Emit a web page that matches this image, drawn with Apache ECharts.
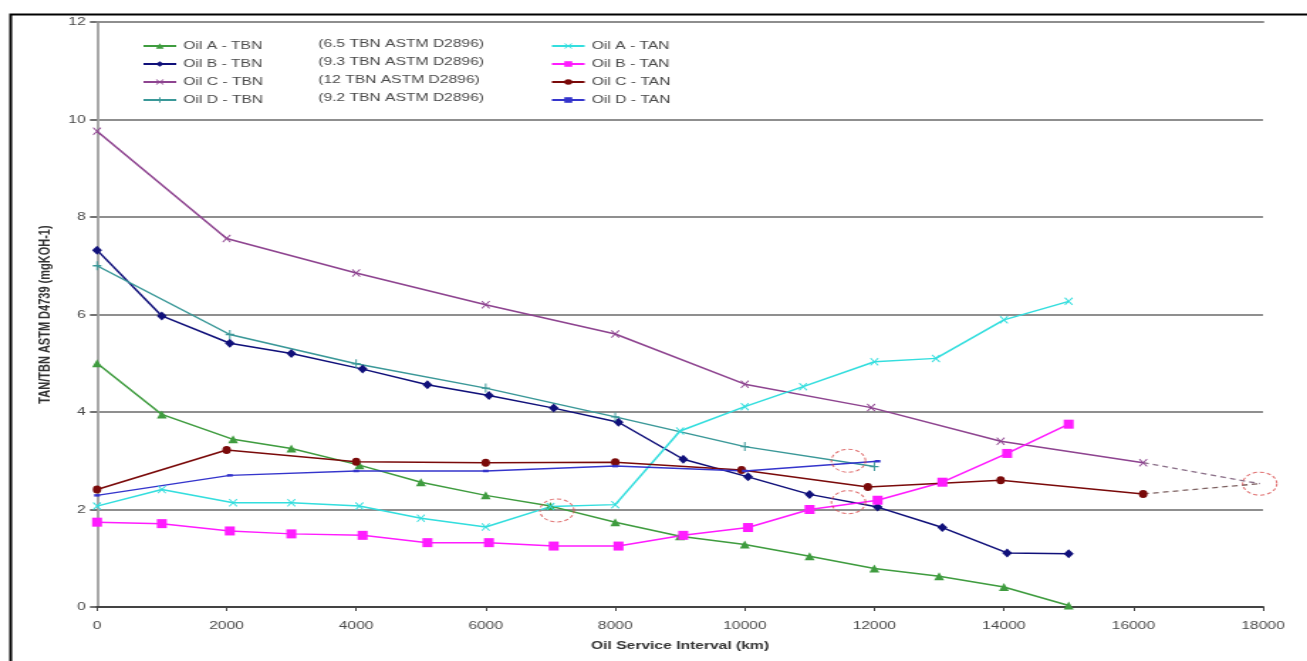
<!DOCTYPE html>
<html>
<head>
<meta charset="utf-8">
<script src="https://cdn.jsdelivr.net/npm/echarts@6/dist/echarts.min.js"></script>
<style>
  html, body { margin: 0; padding: 0; background: #fff; overflow: hidden; }
  /* the chart is laid out narrow and widened horizontally */
  #chart { width: 920px; height: 661px; transform: scaleX(1.4207); transform-origin: 0 0; }
</style>
</head>
<body>
<div id="chart"></div>
<script>
// ---- data: oil service interval (km) vs TAN / TBN (mgKOH-1) ----
const xTicks = [0, 2000, 4000, 6000, 8000, 10000, 12000, 14000, 16000, 18000];
const yTicks = [0, 2, 4, 6, 8, 10, 12];

const oilA_TBN_km = [0, 1000, 2100, 3000, 4050, 5000, 6000, 7000, 8000, 9000, 10000, 11000, 12000, 13000, 14000, 15000];
const oilA_TBN    = [5.00, 3.95, 3.44, 3.25, 2.91, 2.56, 2.29, 2.07, 1.74, 1.45, 1.28, 1.04, 0.79, 0.63, 0.41, 0.03];

const oilB_TBN_km = [0, 1000, 2050, 3000, 4100, 5100, 6050, 7050, 8050, 9050, 10050, 11000, 12050, 13050, 14050, 15000];
const oilB_TBN    = [7.32, 5.97, 5.41, 5.20, 4.88, 4.56, 4.34, 4.08, 3.79, 3.03, 2.67, 2.31, 2.05, 1.63, 1.11, 1.09];

const oilC_TBN_km = [0, 2000, 4000, 6000, 8000, 10000, 11950, 13950, 16150];
const oilC_TBN    = [9.76, 7.56, 6.85, 6.20, 5.60, 4.57, 4.09, 3.40, 2.96];

const oilD_TBN_km = [0, 2050, 4000, 6000, 8000, 10000, 12000];
const oilD_TBN    = [7.00, 5.59, 4.99, 4.49, 3.90, 3.29, 2.88];

const oilA_TAN_km = [0, 1000, 2100, 3000, 4050, 5000, 6000, 7000, 8000, 9000, 10000, 10900, 12000, 12950, 14000, 15000];
const oilA_TAN    = [2.07, 2.41, 2.14, 2.14, 2.07, 1.82, 1.64, 2.06, 2.10, 3.61, 4.11, 4.52, 5.03, 5.10, 5.89, 6.27];

const oilB_TAN_km = [0, 1000, 2050, 3000, 4100, 5100, 6050, 7050, 8050, 9050, 10050, 11000, 12050, 13050, 14050, 15000];
const oilB_TAN    = [1.74, 1.71, 1.56, 1.50, 1.47, 1.32, 1.32, 1.25, 1.25, 1.47, 1.63, 2.00, 2.19, 2.56, 3.15, 3.75];

const oilC_TAN_km = [0, 2000, 4000, 6000, 8000, 9950, 11900, 13950, 16150];
const oilC_TAN    = [2.41, 3.22, 2.98, 2.96, 2.97, 2.81, 2.46, 2.60, 2.32];

const oilD_TAN_km = [0, 2050, 4000, 6000, 8000, 10000, 12050];
const oilD_TAN    = [2.29, 2.70, 2.79, 2.79, 2.89, 2.79, 2.99];

// projected crossing of Oil C TBN and TAN
const crossoverPoint = [17950, 2.53];
// highlighted crossings
const highlightPoints = [[11600, 3.00], [11600, 2.15], [7100, 1.98], [17950, 2.53]];

const tbnNames = ['Oil A - TBN', 'Oil B - TBN', 'Oil C - TBN', 'Oil D - TBN'];
const tanNames = ['Oil A - TAN', 'Oil B - TAN', 'Oil C - TAN', 'Oil D - TAN'];
const tbnNotes = ['(6.5 TBN ASTM D2896)', '(9.3 TBN ASTM D2896)', '(12 TBN ASTM D2896)', '(9.2 TBN ASTM D2896)'];

// ---- styling ----
const FONT = '"Liberation Sans", Arial, sans-serif';
const TEXT = '#4a4a4a';
const X_SYM = 'path://M0,1 L1,0 L5,4 L9,0 L10,1 L6,5 L10,9 L9,10 L5,6 L1,10 L0,9 L4,5 Z';
const PLUS_SYM = 'path://M4.2,0 L5.8,0 L5.8,4.2 L10,4.2 L10,5.8 L5.8,5.8 L5.8,10 L4.2,10 L4.2,5.8 L0,5.8 L0,4.2 L4.2,4.2 Z';

const pairs = (xs, ys) => xs.map((x, i) => [x, ys[i]]);

function lineSeries(name, xs, ys, color, symbol, size) {
  return {
    name, type: 'line', data: pairs(xs, ys),
    symbol, symbolSize: size, showSymbol: true,
    lineStyle: { color, width: 1.5 },
    itemStyle: { color, borderWidth: 0 },
    emphasis: { disabled: true },
    animation: false, z: 3
  };
}

const series = [
  lineSeries(tbnNames[0], oilA_TBN_km, oilA_TBN, '#3f9c3f', 'triangle', [7, 8]),
  lineSeries(tbnNames[1], oilB_TBN_km, oilB_TBN, '#10107a', 'diamond', [7, 9]),
  lineSeries(tbnNames[2], oilC_TBN_km, oilC_TBN, '#8e4490', X_SYM, [6, 8]),
  lineSeries(tbnNames[3], oilD_TBN_km, oilD_TBN, '#3a9898', PLUS_SYM, [6, 9]),
  lineSeries(tanNames[0], oilA_TAN_km, oilA_TAN, '#33dede', X_SYM, [6, 8]),
  lineSeries(tanNames[1], oilB_TAN_km, oilB_TAN, '#ff1cff', 'rect', [7, 9]),
  lineSeries(tanNames[2], oilC_TAN_km, oilC_TAN, '#7a0a0a', 'circle', [6, 8]),
  lineSeries(tanNames[3], oilD_TAN_km, oilD_TAN, '#3535cc', 'rect', [4, 2.5]),
  // dashed projections of Oil C toward the crossing
  {
    name: 'C-TBN projection', type: 'line', silent: true, animation: false, symbol: 'none',
    data: [[oilC_TBN_km[oilC_TBN_km.length - 1], oilC_TBN[oilC_TBN.length - 1]], crossoverPoint],
    lineStyle: { color: '#8a6f88', width: 1.3, type: [4, 3] }
  },
  {
    name: 'C-TAN projection', type: 'line', silent: true, animation: false, symbol: 'none',
    data: [[oilC_TAN_km[oilC_TAN_km.length - 1], oilC_TAN[oilC_TAN.length - 1]], crossoverPoint],
    lineStyle: { color: '#7e6262', width: 1.3, type: [4, 3] }
  },
  {
    name: 'highlight', type: 'scatter', silent: true, animation: false,
    data: highlightPoints, symbol: 'circle', symbolSize: [24, 23], z: 5,
    itemStyle: { color: 'rgba(0,0,0,0)', borderColor: '#d84a4a', borderWidth: 1, borderType: [3, 2] }
  }
];

const legendBase = {
  orient: 'vertical', top: 35, padding: 5, itemWidth: 23, itemHeight: 7, itemGap: 6,
  selectedMode: false,
  textStyle: { fontFamily: FONT, fontSize: 11, color: TEXT, lineHeight: 12 }
};

const option = {
  backgroundColor: '#fff',
  animation: false,
  grid: { left: 68.3, right: 31, top: 22, bottom: 54 },
  legend: [
    Object.assign({ left: 95, data: tbnNames }, legendBase),
    Object.assign({ left: 382.5, data: tanNames }, legendBase)
  ],
  xAxis: [
    {
      type: 'value', min: xTicks[0], max: xTicks[xTicks.length - 1], interval: xTicks[1] - xTicks[0],
      name: 'Oil Service Interval (km)', nameLocation: 'middle', nameGap: 33,
      nameTextStyle: { fontFamily: FONT, fontSize: 11, fontWeight: 'bold', color: '#333' },
      axisLine: { show: true, onZero: false, lineStyle: { color: '#444', width: 2 } },
      axisTick: { show: true, length: 4, lineStyle: { color: '#444', width: 1 } },
      axisLabel: { margin: 13, fontFamily: FONT, fontSize: 11, color: TEXT, formatter: v => String(v) },
      splitLine: { show: false }
    },
    {
      // plot-area top border
      type: 'value', position: 'top', z: 4,
      min: xTicks[0], max: xTicks[xTicks.length - 1], interval: xTicks[1] - xTicks[0],
      axisLine: { show: true, onZero: false, lineStyle: { color: '#8e8e8e', width: 2 } },
      axisTick: { show: false }, axisLabel: { show: false }, splitLine: { show: false }
    }
  ],
  yAxis: [
    {
      type: 'value', min: yTicks[0], max: yTicks[yTicks.length - 1], interval: yTicks[1] - yTicks[0],
      name: 'TAN/TBN ASTM D4739 (mgKOH-1)', nameLocation: 'middle', nameGap: 22,
      nameTextStyle: { fontFamily: FONT, fontSize: 11, fontWeight: 'bold', color: '#333' },
      axisLine: { show: true, lineStyle: { color: '#333', width: 2 } },
      axisTick: { show: true, length: 5, lineStyle: { color: '#444', width: 1.5 } },
      axisLabel: { margin: 8, fontFamily: FONT, fontSize: 11, color: TEXT },
      splitLine: { show: true, lineStyle: { color: '#6a6a6a', width: 1.5 } }
    },
    {
      // plot-area right border
      type: 'value', position: 'right', min: yTicks[0], max: yTicks[yTicks.length - 1], interval: yTicks[1] - yTicks[0],
      axisLine: { show: true, lineStyle: { color: '#a8a8a8', width: 2 } },
      axisTick: { show: false }, axisLabel: { show: false }, splitLine: { show: false }
    }
  ],
  graphic: [
    { type: 'rect', left: 5, top: 12, shape: { width: 1000, height: 700 },
      style: { fill: 'none', stroke: '#000', lineWidth: 2 }, silent: true },
    ...tbnNotes.map((t, i) => ({
      type: 'text', left: 224, top: 38 + i * 18,
      style: { text: t, fontFamily: FONT, fontSize: 11, fill: TEXT, lineHeight: 12 }, silent: true
    }))
  ],
  series
};

const chart = echarts.init(document.getElementById('chart'), null, { renderer: 'canvas' });
chart.setOption(option);
</script>
</body>
</html>
